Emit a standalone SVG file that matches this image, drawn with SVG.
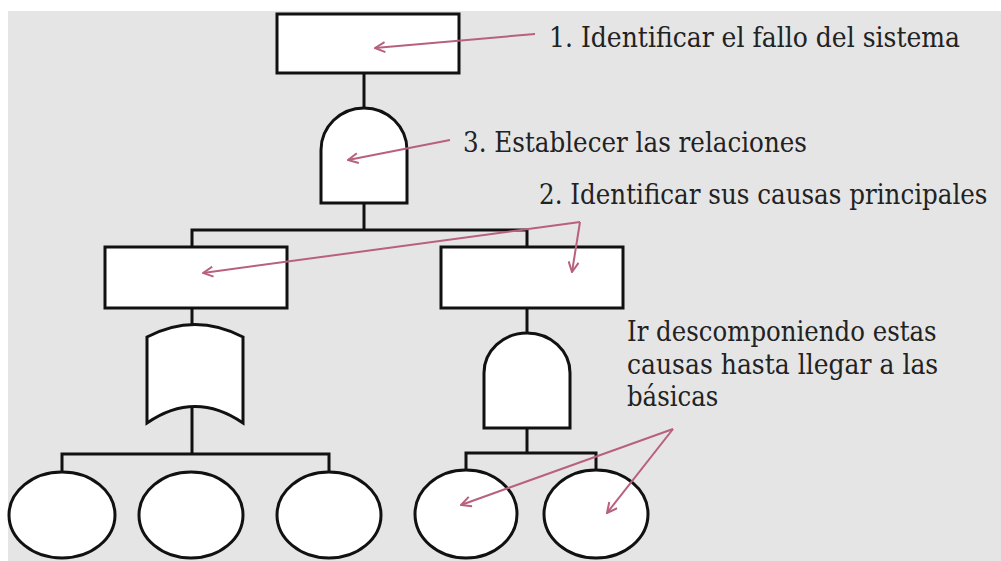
<svg xmlns="http://www.w3.org/2000/svg" width="1001" height="561" viewBox="0 0 1001 561">
  <defs>
    <style>
      .node { fill: #ffffff; stroke: #111111; stroke-width: 3; }
      .wire { fill: none; stroke: #111111; stroke-width: 3; }
      .note { fill: none; stroke: #b8607e; stroke-width: 2; }
      .txt { font-family: "DejaVu Serif", "Liberation Serif", serif; font-size: 27px; fill: #222222; }
    </style>
    <marker id="arrow" viewBox="0 0 12 12" refX="11" refY="6" markerWidth="12" markerHeight="12" markerUnits="userSpaceOnUse" orient="auto">
      <path d="M1,1 L11,6 L1,11" fill="none" stroke="#b8607e" stroke-width="2"/>
    </marker>
  </defs>

  <rect x="0" y="0" width="1001" height="561" fill="#ffffff"/>
  <rect x="8" y="11" width="993" height="550" fill="#e5e5e5"/>

  <g id="connectors">
    <path class="wire" d="M364,73 V108"/>
    <path class="wire" d="M364,203 V230"/>
    <path class="wire" d="M192,247 V230 H527 V247"/>
    <path class="wire" d="M192,308 V325"/>
    <path class="wire" d="M527,308 V333"/>
    <path class="wire" d="M192,405 V454"/>
    <path class="wire" d="M62,471 V454 H329 V471"/>
    <path class="wire" d="M527,428 V453"/>
    <path class="wire" d="M466,470 V453 H596 V470"/>
  </g>

  <g id="top-event"><rect class="node" x="277" y="14" width="182" height="59"/></g>
  <g id="top-and-gate"><path class="node" d="M321,203 V150 A43,42 0 0 1 407,150 V203 Z"/></g>
  <g id="cause-left"><rect class="node" x="105" y="247" width="182" height="61"/></g>
  <g id="cause-right"><rect class="node" x="441" y="247" width="182" height="61"/></g>
  <g id="or-gate"><path class="node" d="M147,337 Q195,312 243,337 V423 Q195,390 147,423 Z"/></g>
  <g id="right-and-gate"><path class="node" d="M484,428 V373 A43,40 0 0 1 570,373 V428 Z"/></g>
  <g id="basic-1"><ellipse class="node" cx="62" cy="515" rx="53" ry="43"/></g>
  <g id="basic-2"><ellipse class="node" cx="191" cy="515" rx="52" ry="43"/></g>
  <g id="basic-3"><ellipse class="node" cx="329" cy="515" rx="52" ry="43"/></g>
  <g id="basic-4"><ellipse class="node" cx="466" cy="514" rx="51" ry="44"/></g>
  <g id="basic-5"><ellipse class="node" cx="596" cy="514" rx="52" ry="44"/></g>

  <g id="annotations">
    <path class="note" d="M535,34 L375,48" marker-end="url(#arrow)"/>
    <path class="note" d="M450,140 L348,160" marker-end="url(#arrow)"/>
    <path class="note" d="M580,222 L203,273" marker-end="url(#arrow)"/>
    <path class="note" d="M580,222 L572,272" marker-end="url(#arrow)"/>
    <path class="note" d="M673,429 L461,505" marker-end="url(#arrow)"/>
    <path class="note" d="M673,429 L607,513" marker-end="url(#arrow)"/>
  </g>

  <g id="labels">
    <text class="txt" transform="translate(549,47) scale(0.78,1)" textLength="527" lengthAdjust="spacingAndGlyphs">1. Identificar el fallo del sistema</text>
    <text class="txt" transform="translate(463,152) scale(0.78,1)" textLength="441" lengthAdjust="spacingAndGlyphs">3. Establecer las relaciones</text>
    <text class="txt" transform="translate(539,204) scale(0.78,1)" textLength="575" lengthAdjust="spacingAndGlyphs">2. Identificar sus causas principales</text>
    <text class="txt" transform="translate(627,341) scale(0.78,1)" textLength="397" lengthAdjust="spacingAndGlyphs">Ir descomponiendo estas</text>
    <text class="txt" transform="translate(627,374) scale(0.78,1)" textLength="399" lengthAdjust="spacingAndGlyphs">causas hasta llegar a las</text>
    <text class="txt" transform="translate(627,406) scale(0.78,1)" textLength="117" lengthAdjust="spacingAndGlyphs">básicas</text>
  </g>
</svg>
